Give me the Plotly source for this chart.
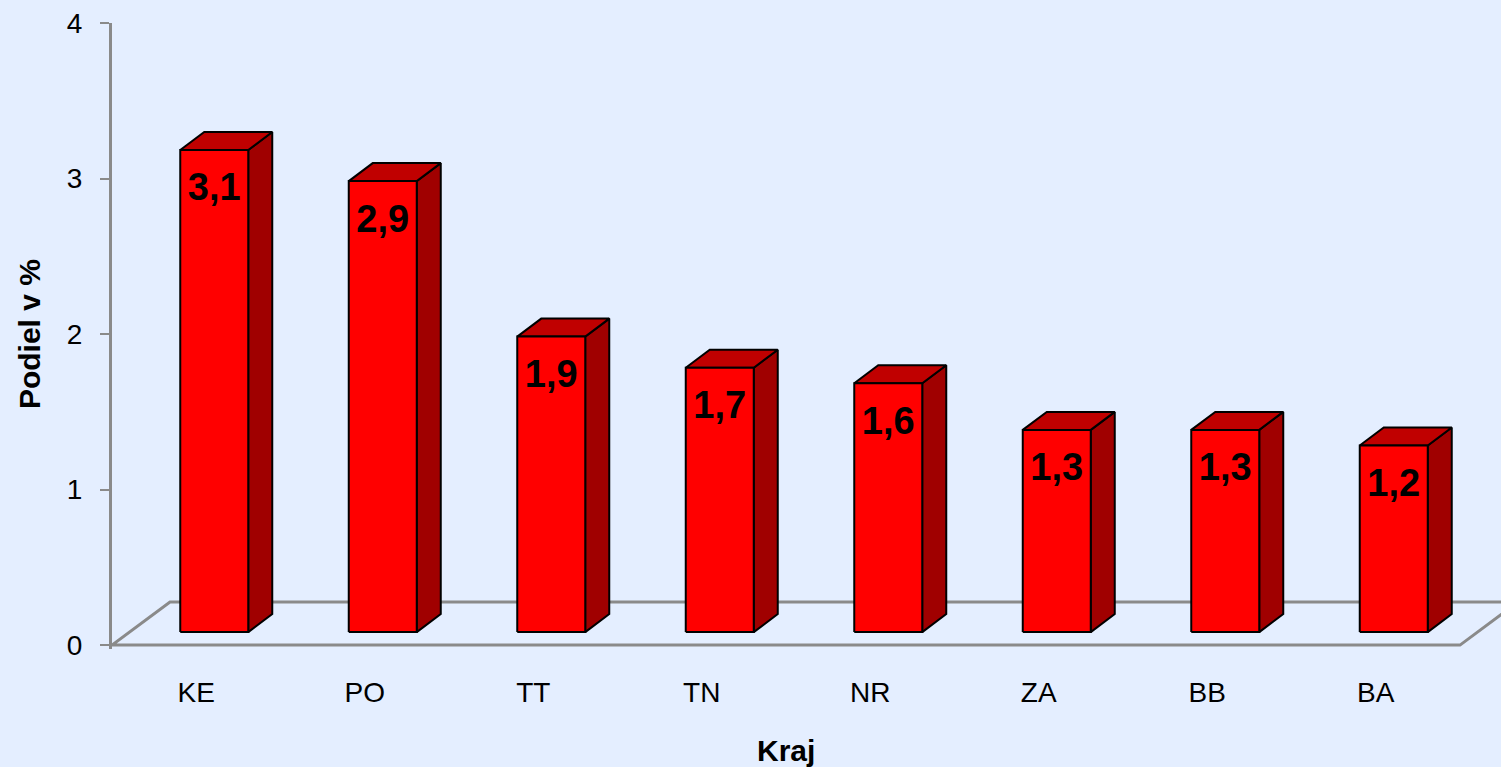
import plotly.graph_objects as go

# ---- data ----
categories = ["KE", "PO", "TT", "TN", "NR", "ZA", "BB", "BA"]
values = [3.1, 2.9, 1.9, 1.7, 1.6, 1.3, 1.3, 1.2]
y_ticks = [0, 1, 2, 3, 4]

# ---- style / geometry constants (pixel sizes converted to axis units) ----
PX_X = 168.5   # pixels per category step
PX_Y = 155.5   # pixels per value unit
BG = "#E4EEFF"
GRAY = "#8A8A8A"
FRONT = "#FF0000"
TOP = "#C00000"
SIDE = "#A00000"

fx, fy = 18 / PX_X, 13 / PX_Y          # bar front-face offset into depth
hw = 34 / PX_X                          # half bar width
dx, dy = 24 / PX_X, 18 / PX_Y           # bar depth
Fx, Fy = 58 / PX_X, 43 / PX_Y           # floor depth
label_drop = 41 / PX_Y

n = len(categories)
x_left, x_right = -0.5, n - 0.5

fig = go.Figure()

# floor outline
fig.add_trace(go.Scatter(
    x=[x_right + Fx + 1, x_left + Fx, x_left, x_right, x_right + Fx],
    y=[Fy, Fy, 0, 0, Fy],
    mode="lines", line=dict(color=GRAY, width=3), showlegend=False,
    hoverinfo="skip"))

# bars as 3D prisms
fx_list, fy_list = [], []
sx_list, sy_list = [], []
tx_list, ty_list = [], []
for i, v in enumerate(values):
    xl = i + fx - hw
    xr = i + fx + hw
    y0 = fy
    y1 = v + fy
    fx_list += [xl, xr, xr, xl, xl, None]
    fy_list += [y0, y0, y1, y1, y0, None]
    sx_list += [xr, xr + dx, xr + dx, xr, xr, None]
    sy_list += [y0, y0 + dy, y1 + dy, y1, y0, None]
    tx_list += [xl, xl + dx, xr + dx, xr, xl, None]
    ty_list += [y1, y1 + dy, y1 + dy, y1, y1, None]

for xs, ys, col in [(sx_list, sy_list, SIDE), (tx_list, ty_list, TOP),
                    (fx_list, fy_list, FRONT)]:
    fig.add_trace(go.Scatter(
        x=xs, y=ys, mode="lines", fill="toself", fillcolor=col,
        line=dict(color="black", width=2), showlegend=False,
        hoverinfo="skip"))

# value labels
fig.add_trace(go.Scatter(
    x=[i + fx for i in range(n)],
    y=[v + fy - label_drop for v in values],
    mode="text",
    text=[f"{v:.1f}".replace(".", ",") for v in values],
    textposition="middle center",
    textfont=dict(family="Liberation Sans, Arial", size=38, color="black",
                  weight="bold"),
    showlegend=False, hoverinfo="skip"))

fig.update_layout(
    width=1501, height=767,
    margin=dict(l=112, r=0, t=23, b=767 - 645 - int(round(0.025 * PX_Y))),
    paper_bgcolor=BG, plot_bgcolor=BG,
    hovermode=False,
    font=dict(family="Liberation Sans, Arial", color="black"),
    xaxis=dict(
        range=[x_left, x_right + 41 / PX_X],
        tickvals=list(range(n)), ticktext=categories,
        showgrid=False, zeroline=False, showline=False, ticks="",
        ticklabelstandoff=24,
        tickfont=dict(size=28, color="black"),
        fixedrange=True),
    yaxis=dict(
        range=[-0.025, 4],
        tickvals=y_ticks, ticktext=[str(t) for t in y_ticks],
        showgrid=False, zeroline=False,
        showline=True, linecolor=GRAY, linewidth=3,
        ticks="outside", ticklen=9, tickwidth=2, tickcolor=GRAY,
        ticklabelstandoff=12,
        tickfont=dict(size=28, color="black"),
        fixedrange=True),
    annotations=[
        dict(text="<b>Podiel v %</b>", xref="paper", yref="y",
             x=0, y=2, xshift=-83, textangle=-90, showarrow=False,
             xanchor="center", yanchor="middle",
             font=dict(size=30, color="black")),
        dict(text="<b>Kraj</b>", xref="x", yref="paper",
             x=(n - 1) / 2, y=0, yshift=-101, showarrow=False,
             xanchor="center", yanchor="middle",
             font=dict(size=30, color="black")),
    ],
)

fig.write_html(
    "out.html",
    config={"displayModeBar": False},
    post_script=("document.body.style.margin='0';"
                 "document.body.style.padding='0';"
                 "document.body.style.overflow='hidden';"
                 "document.body.style.background='" + BG + "';"),
)
